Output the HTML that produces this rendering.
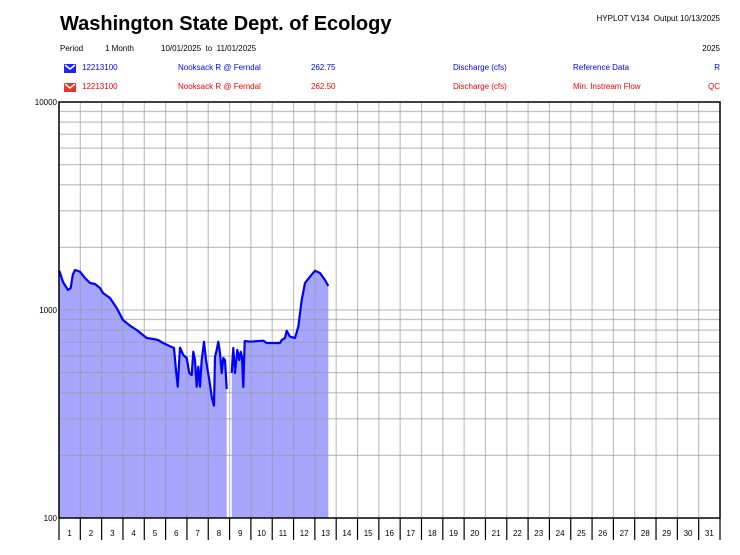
<!DOCTYPE html>
<html><head><meta charset="utf-8"><style>
body{margin:0;background:#fff;}
svg{display:block;font-family:"Liberation Sans",Arial,sans-serif;}
</style></head><body>
<svg id="s" width="740" height="555" viewBox="0 0 740 555" xmlns="http://www.w3.org/2000/svg">
<text x="60" y="30" font-size="20" font-weight="bold" fill="#000">Washington State Dept. of Ecology</text>
<text x="720" y="21" font-size="8" text-anchor="end" fill="#000">HYPLOT V134&#160; Output 10/13/2025</text>
<text x="60" y="51" font-size="8" fill="#000">Period</text>
<text x="105" y="51" font-size="8" fill="#000">1 Month</text>
<text x="161" y="51" font-size="8" fill="#000">10/01/2025&#160; to&#160; 11/01/2025</text>
<text x="720" y="51" font-size="8" text-anchor="end" fill="#000">2025</text>
<g font-size="8" fill="#0000ff">
<path d="M64,64 h12 v9 h-12 z" fill="#2222ff"/><path d="M65,65 l5,4 l5,-4" stroke="#fff" stroke-width="1.5" fill="none"/>
<text x="82" y="70">12213100</text><text x="178" y="70">Nooksack R @ Ferndal</text><text x="311" y="70">262.75</text>
<text x="453" y="70">Discharge (cfs)</text><text x="573" y="70">Reference Data</text><text x="720" y="70" text-anchor="end">R</text>
</g>
<g font-size="8" fill="#ff0000">
<path d="M64,83 h12 v9 h-12 z" fill="#ee3322"/><path d="M65,84 l5,4 l5,-4" stroke="#fff" stroke-width="1.5" fill="none"/>
<text x="82" y="89">12213100</text><text x="178" y="89">Nooksack R @ Ferndal</text><text x="311" y="89">262.50</text>
<text x="453" y="89">Discharge (cfs)</text><text x="573" y="89">Min. Instream Flow</text><text x="720" y="89" text-anchor="end">QC</text>
</g>
<g id="fill"></g>
<g id="grid" stroke="#999" stroke-width="1.2" stroke-opacity="0.6"></g>
<g id="line"></g>
<rect x="59" y="102" width="661" height="416" fill="none" stroke="#000" stroke-width="1.5"/>
<g id="ax" font-size="8" fill="#000"></g>
<text x="57" y="105" font-size="8" text-anchor="end">10000</text>
<text x="57" y="313" font-size="8" text-anchor="end">1000</text>
<text x="57" y="521" font-size="8" text-anchor="end">100</text>
</svg>
<script>
var NS="http://www.w3.org/2000/svg";
function el(p,t,a){var e=document.createElementNS(NS,t);for(var k in a)e.setAttribute(k,a[k]);document.getElementById(p).appendChild(e);return e;}
var L=59,R=720,T=102,B=518,dw=(R-L)/31;
for(var d=0;d<2;d++)for(var k=2;k<=9;k++){var y=B-208*d-208*Math.log10(k);el("grid","line",{x1:L,x2:R,y1:y,y2:y});}
el("grid","line",{x1:L,x2:R,y1:310,y2:310});
for(var i=1;i<31;i++){var x=L+dw*i;el("grid","line",{x1:x,x2:x,y1:T,y2:B});}
for(var i=0;i<=31;i++){var x=L+dw*i;el("ax","line",{x1:x,x2:x,y1:B,y2:540,stroke:"#000","stroke-width":1.2});}
for(var i=0;i<31;i++){var t=el("ax","text",{x:L+dw*(i+0.5),y:536,"text-anchor":"middle"});t.textContent=i+1;}
var A=[[59.3,270.7],[63,282],[68,290],[70.7,288],[72.7,275],[75,270],[80,271.7],[85,278],[90,283],[95,284],[100,288],[103,293],[110,298],[116.7,308],[123,320],[130,325.7],[136.7,330],[146.7,338],[153,339],[158,340],[163,343],[171.7,347],[174,348],[176,370],[177.7,386.7],[180,347.7],[183.3,355],[186.7,358],[189.3,373],[191.7,375],[193.3,351.7],[195,360],[196.7,386.7],[198.3,366.7],[200,386.7],[201.7,360],[204,341.7],[206,360],[209.3,380],[211.7,396.7],[214,405.7],[215,356.7],[216.7,350],[218.3,341.7],[220,353],[221.7,373],[223.3,358],[225,360],[226.7,389]];
var Bp=[[231.7,373],[233.3,348],[235,373],[237.3,350],[239.3,360],[240.7,351.7],[242,356.7],[243.3,387],[244.7,341],[250,341.7],[263.3,340.7],[266.7,343],[280,343],[281.7,340],[285,338],[286.7,330.7],[290,336.7],[295,338],[298.3,326.7],[301.7,300],[305,283],[310,276.7],[315,270.7],[320,273],[325,280],[328.3,286]];
function pts(a){return a.map(function(p){return p[0]+","+p[1]}).join(" ");}
function fp(a){return pts(a)+" "+a[a.length-1][0]+","+B+" "+a[0][0]+","+B;}
el("fill","polygon",{points:fp(A),fill:"#a6a6ff"});
el("fill","polygon",{points:fp(Bp),fill:"#a6a6ff"});
el("line","polyline",{points:pts(A),fill:"none",stroke:"#0000ff","stroke-width":2.2,"stroke-linejoin":"round"});
el("line","polyline",{points:pts(Bp),fill:"none",stroke:"#0000ff","stroke-width":2.2,"stroke-linejoin":"round"});
</script>
</body></html>
